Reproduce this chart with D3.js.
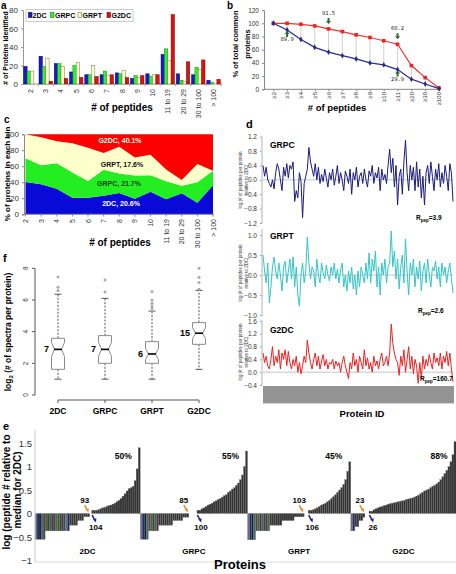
<!DOCTYPE html>
<html><head><meta charset="utf-8">
<script src="https://cdn.jsdelivr.net/npm/d3@7"></script>
<style>body{margin:0;background:#fff}svg{display:block}</style>
</head><body>
<script>
// ---------------- DATA ----------------
const binLabels = ["2","3","4","5","6","7","8","9","10","11 to 19","20 to 29","30 to 100","> 100"];
const seriesNames = ["2DC","GRPC","GRPT","G2DC"];
const a2DC  = [19,30,22,13,10,10,12,6,11,32,11,10,4];
const aGRPC = [14,19,22,20,10,14,11,9,8,38,4,18,2];
const aGRPT = [14,28,19,23,20,9,15,7,10,25,3,16,0];
const aG2DC = [0,3,6,7,8,10,7,9,10,75,24,26,5];
const aTicks = [0,20,40,60,80];

const bLabels = ["≥2","≥3","≥4","≥5","≥6","≥7","≥8","≥9","≥10","≥11","≥20","≥30","≥100"];
const bRed  = [100,100,98.5,96,91.5,87.5,82.5,78.5,73.5,68.2,36,17.7,2];
const bBlue = [100,89.9,75.4,63.5,56.4,51,46,40,37,29.9,15.4,8,1];
const bTicks = [0,20,40,60,80,100,120];
const bNoteIdx = [1,4,9,9];
const bNoteSeries = ["blue","red","red","blue"];

const cPct = ["20.6%","21.7%","17.6%","40.1%"];
const cTicks = [0,20,40,60,80,100];

const dGRPC = [0.4,0.1,0.35,0.0,-0.1,-0.2,0.0,-0.25,0.2,0.45,0.3,0.0,-0.3,0.35,0.1,0.45,0.05,0.4,0.3,
 0.5,-0.6,-0.3,-0.5,0.2,-0.05,-1.05,-0.1,0.1,0.3,0.9,0.5,0.3,
 0.1,0.45,0.0,0.35,-0.1,0.15,-0.05,0.3,0.05,-0.2,0.2,0.0,0.3,-0.15,0.1,0.4,-0.1,0.2,0.0,-0.3,
 0.25,0.1,-0.1,0.3,-0.4,0.2,0.0,0.35,-0.2,0.1,0.2,-0.1,0.3,0.0,-0.2,0.25,0.1,0.4,-0.1,0.2,
 0.05,0.35,-0.3,0.3,0.0,0.15,-0.1,0.4,
 0.85,0.2,0.6,-0.2,0.4,-0.7,0.1,0.3,-0.4,0.5,1.1,0.2,-0.3,0.4,0.0,
 0.35,-0.3,0.5,-0.2,0.3,-0.5,0.1,-0.7,0.2,0.4,-0.1,0.5,0.1,-0.3,0.3,0.0,0.45,-0.2,0.2,-0.1,
 0.4,0.1,-0.3,0.45,0.2,-0.6];
const dGRPT = [0.5,0.1,-0.2,0.3,-0.7,-0.3,0.2,0.45,0.1,-0.1,0.3,0.0,-0.4,0.2,0.35,-0.2,0.1,0.4,-0.1,
 0.45,-0.3,0.2,-0.5,-0.78,0.0,0.3,-0.2,0.1,0.95,0.3,-0.1,0.2,
 0.1,-0.3,0.4,0.0,-0.2,0.3,0.05,-0.1,0.25,0.0,-0.15,0.2,0.0,0.3,-0.1,0.15,-0.2,0.1,0.3,-0.3,
 0.0,-0.4,0.1,-0.2,0.2,-0.35,0.0,-0.5,0.1,-0.3,0.2,0.0,-0.2,0.3,-0.1,0.55,-0.2,0.4,0.1,0.6,
 -0.3,0.2,-0.5,0.3,0.0,0.4,-0.2,0.2,
 0.3,1.1,0.2,0.6,-0.1,0.4,-0.35,0.2,0.5,-0.2,0.9,0.1,-0.5,0.3,0.0,
 0.4,-0.3,0.2,-0.1,0.35,-0.4,0.1,0.3,-0.2,0.4,0.0,-0.3,0.2,0.1,0.35,-0.1,0.2,-0.3,0.3,0.0,
 0.2,-0.2,0.1,0.3,-0.1,-0.45];
const dG2DC = [0.6,0.3,0.5,0.2,0.1,0.4,0.8,0.2,0.5,0.3,0.7,0.1,0.6,0.4,0.7,0.2,0.65,0.3,0.1,
 0.4,0.2,0.5,0.0,0.3,-0.05,0.2,0.5,0.3,1.0,0.6,0.3,0.1,
 0.4,0.6,0.2,0.5,0.1,0.35,0.55,0.2,0.4,0.1,0.3,0.25,0.4,0.1,0.35,0.2,0.3,0.0,0.3,0.5,
 0.2,0.0,-0.2,0.3,0.1,0.6,0.2,0.4,0.0,0.5,0.3,0.1,0.7,0.2,0.45,0.1,0.3,0.0,0.5,0.2,
 0.35,0.1,0.4,0.6,0.2,0.3,0.5,0.2,
 0.6,1.5,0.9,0.6,0.4,0.3,-0.1,0.5,0.2,0.7,0.0,0.4,0.8,0.1,0.5,
 -0.05,0.4,0.2,-0.35,0.3,-0.2,0.5,0.1,0.4,0.2,0.55,0.3,0.1,0.6,0.3,0.45,0.2,0.6,0.1,0.5,
 0.3,0.65,0.2,0.6,0.1,-0.3];
const dNames = ["GRPC","GRPT","G2DC"];
const dRpep = ["3.9","2.6","160.7"];
const dTicksGRPC = [-1.2,-0.8,-0.4,0,0.4,0.8,1.2];
const dTicksGRPT = [-1,-0.5,0,0.5,1];
const dTicksG2DC = [-0.4,0,0.4,0.8,1.2,1.6];

const fGroups = ["2DC","GRPC","GRPT","G2DC"];
const fLow  = [1.0,1.0,1.0,1.62];
const fQ1   = [1.62,2.0,2.0,3.2];
const fMed  = [2.88,2.88,2.59,3.9];
const fQ3   = [3.58,3.75,3.37,4.57];
const fHigh = [6.36,6.1,5.3,6.6];
const fNotch = [0.45,0.45,0.35,0.35];
const fOut = [[6.6,6.8,7.45],[6.5,7.26],[5.47,5.62,5.8,6.0,6.53],[6.68,7.1,7.43,8.0]];
const fMedLabel = ["7","7","6","15"];
const fTicks = [0,2,4,6,8];

const eGroups = ["2DC","GRPC","GRPT","G2DC"];
const eNeg2DC  = [-0.55,-0.55,-0.55,-0.55,-0.55,-0.37,-0.37,-0.37,-0.37,-0.37,-0.37,-0.37,-0.37,-0.37,-0.37,-0.37,-0.37,-0.25,-0.25,-0.25,-0.25,-0.15,-0.15,-0.15,-0.07,-0.07,-0.07];
const ePos2DC  = [0.07,0.07,0.07,0.08,0.1,0.12,0.13,0.15,0.17,0.18,0.2,0.22,0.25,0.28,0.32,0.37,0.42,0.48,0.53,0.55,0.58,0.7,0.95,1.4];
const eNegGRPC = [-0.55,-0.55,-0.55,-0.55,-0.37,-0.37,-0.37,-0.37,-0.37,-0.25,-0.25,-0.25,-0.25,-0.25,-0.25,-0.25,-0.15,-0.15,-0.15,-0.15,-0.15,-0.08,-0.08,-0.08];
const ePosGRPC = [0.07,0.07,0.1,0.12,0.15,0.18,0.2,0.22,0.25,0.27,0.3,0.32,0.35,0.38,0.4,0.45,0.48,0.52,0.55,0.6,0.65,0.72,0.82,1.0,1.33];
const eNegGRPT = [-0.56,-0.56,-0.56,-0.56,-0.37,-0.37,-0.37,-0.37,-0.37,-0.37,-0.37,-0.25,-0.25,-0.25,-0.25,-0.25,-0.25,-0.15,-0.15,-0.15,-0.15,-0.15,-0.15,-0.07,-0.07,-0.07,-0.07,-0.07];
const ePosGRPT = [0.07,0.07,0.08,0.1,0.12,0.15,0.18,0.2,0.22,0.25,0.28,0.32,0.36,0.4,0.45,0.5,0.55,0.62,0.72,0.9,1.1];
const eNegG2DC = [-0.37,-0.37,-0.28,-0.28,-0.15,-0.15,-0.08];
const ePosG2DC = [0.05,0.05,0.08,0.1,0.12,0.14,0.15,0.17,0.18,0.2,0.21,0.22,0.23,0.24,0.25,0.26,0.27,0.28,0.3,0.31,0.32,0.33,0.35,0.37,0.39,0.42,0.45,0.48,0.5,0.52,0.55,0.58,0.6,0.63,0.67,0.72,0.78,0.85,0.92,1.0,1.1,1.25,1.53];
const eCountDown = [93,85,103,23];
const eCountUp = [104,100,106,26];
const ePct = ["50%","55%","45%","88%"];
const eTicks = [-1,-0.5,0,0.5,1,1.5];

// ---------------- DRAW ----------------
const W=456,H=574;
const FONT='"Liberation Sans", Arial, Helvetica, sans-serif';
const svg=d3.select("body").append("svg").attr("width",W).attr("height",H).style("font-family",FONT);

function label(x,y,t,size,o={}){
  const e=svg.append("text").attr("x",x).attr("y",y).text(t).attr("font-size",size);
  if(o.bold) e.attr("font-weight","bold");
  e.attr("text-anchor",o.anchor||"start");
  e.attr("fill",o.fill||"#000");
  if(o.rotate!==undefined) e.attr("transform",`rotate(${o.rotate},${x},${y})`);
  if(o.family) e.attr("font-family",o.family);
  return e;
}
function styleAxis(g,col,fs){
  g.selectAll("path").attr("stroke",col);
  g.selectAll("line").attr("stroke",col);
  g.selectAll("text").attr("fill","#333").attr("font-size",fs).attr("font-family",FONT);
}

// ===== Panel a =====
{
  const aData=[a2DC,aGRPC,aGRPT,aG2DC];
  const cols={fill:["#1a1acc","#33ee33","#ffffcc","#dd1111"],stroke:["#000066","#118811","#777755","#770000"]};
  const x=d3.scaleBand().domain(binLabels).range([23,221]).paddingInner(0.12).paddingOuter(0.05);
  const xi=d3.scaleBand().domain(seriesNames).range([0,x.bandwidth()]);
  const y=d3.scaleLinear().domain([0,80]).range([84,10]);
  const ga=svg.append("g").attr("transform","translate(23,0)").call(d3.axisLeft(y).tickValues(aTicks).tickSize(2));
  styleAxis(ga,"#999",8);
  svg.append("line").attr("x1",23).attr("x2",222).attr("y1",84).attr("y2",84).attr("stroke","#999");
  binLabels.forEach((b,i)=>{
    seriesNames.forEach((s,k)=>{
      const v=aData[k][i];
      svg.append("rect").attr("x",x(b)+xi(s)).attr("width",xi.bandwidth()).attr("y",y(v)).attr("height",y(0)-y(v))
        .attr("fill",cols.fill[k]).attr("stroke",v>0?cols.stroke[k]:"none").attr("stroke-width",0.5);
    });
    const cx=x(b)+x.bandwidth()/2;
    svg.append("line").attr("x1",x(b)+x.bandwidth()+x.step()*0.06).attr("x2",x(b)+x.bandwidth()+x.step()*0.06).attr("y1",84).attr("y2",86).attr("stroke","#999");
    label(cx+2.5,89,b,7,{anchor:"end",rotate:-90,fill:"#333"});
  });
  svg.append("rect").attr("x",26).attr("y",9.5).attr("width",107).attr("height",12).attr("fill","#fff").attr("stroke","#ccc");
  const lx=[28.5,50.5,78,107], tx=[32.5,55,82.5,111.5];
  seriesNames.forEach((s,k)=>{
    svg.append("rect").attr("x",lx[k]).attr("y",12.5).attr("width",3.5).attr("height",5).attr("fill",cols.fill[k]).attr("stroke",cols.stroke[k]).attr("stroke-width",0.6);
    label(tx[k],18.2,s,7,{bold:true});
  });
  label(8,48,"# of Proteins identified",6.8,{bold:true,anchor:"middle",rotate:-90});
  label(122,110.5,"# of peptides",10,{bold:true,anchor:"middle"});
  label(1,9,"a",10,{bold:true});
}

// ===== Panel b =====
{
  const x=d3.scalePoint().domain(bLabels).range([273.3,439]);
  const y=d3.scaleLinear().domain([0,120]).range([89.3,10.1]);
  const ga=svg.append("g").attr("transform","translate(264,0)").call(d3.axisLeft(y).tickValues(bTicks).tickSize(2));
  styleAxis(ga,"#888",6.5);
  const gx=svg.append("g").attr("transform","translate(0,89.3)").call(d3.axisBottom(x).tickSize(2).tickFormat(""));
  gx.select("path").remove();
  styleAxis(gx,"#888",6);
  svg.append("line").attr("x1",264).attr("x2",441).attr("y1",89.3).attr("y2",89.3).attr("stroke","#888");
  bLabels.forEach((b,i)=>{
    svg.append("line").attr("x1",x(b)).attr("x2",x(b)).attr("y1",y(bRed[i])).attr("y2",y(bBlue[i])).attr("stroke","#cfcfcf").attr("stroke-width",1);
    label(x(b)+2.2,92,b,6,{anchor:"end",rotate:-90,fill:"#333"});
  });
  const line=d3.line().x((d,i)=>x(bLabels[i])).y(d=>y(d));
  svg.append("path").attr("d",line(bRed)).attr("fill","none").attr("stroke","#ee3333").attr("stroke-width",1.2);
  svg.append("path").attr("d",line(bBlue)).attr("fill","none").attr("stroke","#2a2a8a").attr("stroke-width",1.2);
  bRed.forEach((v,i)=>svg.append("rect").attr("x",x(bLabels[i])-1.8).attr("y",y(v)-1.8).attr("width",3.6).attr("height",3.6).attr("fill","#ee2222"));
  bBlue.forEach((v,i)=>svg.append("path").attr("d",d3.symbol(d3.symbolDiamond,10)()).attr("transform",`translate(${x(bLabels[i])},${y(v)})`).attr("fill","#2a2a8a"));
  bNoteIdx.forEach((idx,j)=>{
    const ser=bNoteSeries[j]; const v=ser==="red"?bRed[idx]:bBlue[idx];
    const px=x(bLabels[idx]), py=y(v);
    const g=svg.append("g").attr("fill","#2d6b2d");
    if(ser==="red"){
      g.append("path").attr("d",`M${px-1},${py-11}L${px+1},${py-11}L${px+1},${py-8}L${px+2.5},${py-8}L${px},${py-5}L${px-2.5},${py-8}L${px-1},${py-8}Z`);
      label(px,py-14,d3.format(".1f")(v),5.5,{anchor:"middle",family:'"DejaVu Sans Mono", monospace',fill:"#222"});
    } else {
      g.append("path").attr("d",`M${px-1},${py+7}L${px+1},${py+7}L${px+1},${py+4}L${px+2.5},${py+4}L${px},${py+1}L${px-2.5},${py+4}L${px-1},${py+4}Z`);
      label(px,py+11,d3.format(".1f")(v),5.5,{anchor:"middle",family:'"DejaVu Sans Mono", monospace',fill:"#222"});
    }
  });
  label(238,44,"% of total common",7.5,{bold:true,anchor:"middle",rotate:-90});
  label(250,44,"proteins",7.5,{bold:true,anchor:"middle",rotate:-90});
  label(337,111,"# of peptides",9.5,{bold:true,anchor:"middle"});
  label(227,9,"b",10,{bold:true});
}

// ===== Panel c =====
{
  const aData=[a2DC,aGRPC,aGRPT,aG2DC];
  const rows=binLabels.map((b,i)=>{const r={bin:b};seriesNames.forEach((s,k)=>r[s]=aData[k][i]);return r;});
  const stack=d3.stack().keys(seriesNames).offset(d3.stackOffsetExpand)(rows);
  const x=d3.scalePoint().domain(binLabels).range([25.5,213]);
  const y=d3.scaleLinear().domain([0,1]).range([214.3,134.3]);
  const yT=d3.scaleLinear().domain([0,100]).range([214.3,134.3]);
  const colors=["#0a0ad8","#22ee22","#ffffcc","#ff0000"];
  const area=d3.area().x(d=>x(d.data.bin)).y0(d=>y(d[0])).y1(d=>y(d[1]));
  stack.forEach((s,k)=>svg.append("path").attr("d",area(s)).attr("fill",colors[k]));
  const ga=svg.append("g").attr("transform","translate(24,0)").call(d3.axisLeft(yT).tickValues(cTicks).tickSize(2));
  styleAxis(ga,"#888",8);
  svg.append("line").attr("x1",24).attr("x2",214).attr("y1",214.3).attr("y2",214.3).attr("stroke","#888");
  binLabels.forEach(b=>{
    svg.append("line").attr("x1",x(b)).attr("x2",x(b)).attr("y1",214.3).attr("y2",216.5).attr("stroke","#888");
    label(x(b)+2.5,219,b,7,{anchor:"end",rotate:-90,fill:"#333"});
  });
  const pos=[[121,206],[119,186],[122,167],[120,143]];
  const tc=["#fff","#114411","#111","#fff8e0"];
  seriesNames.forEach((s,k)=>label(pos[k][0],pos[k][1],`${s}, ${cPct[k]}`,7,{bold:true,anchor:"middle",fill:tc[k]}));
  label(10,174,"% of proteins in each bin",8,{bold:true,anchor:"middle",rotate:-90});
  label(120,246,"# of peptides",10,{bold:true,anchor:"middle"});
  label(4,123,"c",10,{bold:true});
}

// ===== Panel d =====
{
  const subs=[
    {data:dGRPC,ticks:dTicksGRPC,dom:[-1.2,1.2],rng:[223,136.7],col:"#1a1a80",name:[270,148],r:[416,220],top:136.7,bot:223,tc:180},
    {data:dGRPT,ticks:dTicksGRPT,dom:[-1,1],rng:[315,235],col:"#33c6c6",name:[270,239],r:[418,313],top:229,bot:316,tc:273},
    {data:dG2DC,ticks:dTicksG2DC,dom:[-0.4,1.6],rng:[385,321],col:"#ee2020",name:[270,333],r:[420,381],top:320,bot:385,tc:352}
  ];
  subs.forEach((s,k)=>{
    const x=d3.scaleLinear().domain([0,s.data.length-1]).range([263,453]);
    const y=d3.scaleLinear().domain(s.dom).range(s.rng);
    const ga=svg.append("g").attr("transform","translate(262,0)").call(d3.axisLeft(y).tickValues(s.ticks).tickSize(2).tickFormat(d3.format(".1f")));
    ga.select("path").remove();
    styleAxis(ga,"#999",6.5);
    svg.append("line").attr("x1",262).attr("x2",262).attr("y1",s.top).attr("y2",s.bot).attr("stroke","#ccc").attr("stroke-width",1.5);
    svg.append("line").attr("x1",263).attr("x2",453).attr("y1",y(0)).attr("y2",y(0)).attr("stroke","#aaa").attr("stroke-width",0.7);
    svg.append("path").attr("d",d3.line().x((d,i)=>x(i)).y(d=>y(d))(s.data)).attr("fill","none").attr("stroke",s.col).attr("stroke-width",1);
    label(s.name[0],s.name[1],dNames[k],8.5,{bold:true});
    const t=label(s.r[0],s.r[1],"R",6.5,{bold:true});
    t.append("tspan").attr("font-size",4.5).attr("dy",1.5).text("pep");
    t.append("tspan").attr("dy",-1.5).text("="+dRpep[k]);
    label(242,s.tc,"log |# of peptides per protein",4.5,{anchor:"middle",rotate:-90,fill:"#333"});
    label(247.5,s.tc,"relative to 2DC|",4.5,{anchor:"middle",rotate:-90,fill:"#333"});
  });
  svg.append("rect").attr("x",263).attr("y",386).attr("width",191).attr("height",17).attr("fill","#a4a4a4");
  d3.range(0,9).forEach(i=>svg.append("line").attr("x1",263).attr("x2",454).attr("y1",387+i*2).attr("y2",387+i*2).attr("stroke","#6f6f6f").attr("stroke-width",0.6));
  label(362,417,"Protein ID",9.5,{bold:true,anchor:"middle"});
  label(246,128,"d",11,{bold:true});
}

// ===== Panel f =====
{
  const x=d3.scalePoint().domain(fGroups).range([58,199]);
  const y=d3.scaleLinear().domain([0,8]).range([395,268.3]);
  svg.append("line").attr("x1",35).attr("x2",35).attr("y1",y(0)).attr("y2",y(8)).attr("stroke","#555");
  fTicks.forEach(t=>{
    svg.append("line").attr("x1",32).attr("x2",35).attr("y1",y(t)).attr("y2",y(t)).attr("stroke","#555");
    label(28,y(t),String(t),6.5,{anchor:"middle",rotate:-90,fill:"#333"});
  });
  svg.append("line").attr("x1",58).attr("x2",199).attr("y1",400).attr("y2",400).attr("stroke","#555");
  fGroups.forEach((g,i)=>{
    const c=x(g), hw=6.5, nw=3.5;
    svg.append("line").attr("x1",c).attr("x2",c).attr("y1",400).attr("y2",403).attr("stroke","#555");
    label(c,414,g,8.5,{bold:true,anchor:"middle"});
    const stroke="#8a8a8a";
    svg.append("line").attr("x1",c).attr("x2",c).attr("y1",y(fQ3[i])).attr("y2",y(fHigh[i])).attr("stroke","#555").attr("stroke-dasharray","2,1.5");
    svg.append("line").attr("x1",c).attr("x2",c).attr("y1",y(fQ1[i])).attr("y2",y(fLow[i])).attr("stroke","#555").attr("stroke-dasharray","2,1.5");
    [fHigh[i],fLow[i]].forEach(v=>svg.append("line").attr("x1",c-3.5).attr("x2",c+3.5).attr("y1",y(v)).attr("y2",y(v)).attr("stroke","#555"));
    const m=fMed[i], n=fNotch[i];
    const p=[[c-hw,fQ3[i]],[c-hw,m+n],[c-nw,m],[c-hw,m-n],[c-hw,fQ1[i]],[c+hw,fQ1[i]],[c+hw,m-n],[c+nw,m],[c+hw,m+n],[c+hw,fQ3[i]]];
    svg.append("path").attr("d","M"+p.map(q=>q[0]+","+y(q[1])).join("L")+"Z").attr("fill","#fff").attr("stroke",stroke).attr("stroke-width",1);
    svg.append("line").attr("x1",c-nw-0.5).attr("x2",c+nw+0.5).attr("y1",y(m)).attr("y2",y(m)).attr("stroke","#000").attr("stroke-width",1.6);
    fOut[i].forEach(v=>svg.append("circle").attr("cx",c).attr("cy",y(v)).attr("r",1.5).attr("fill","#aaa"));
    label(c-hw-2.5,y(m)+3,fMedLabel[i],9,{bold:true,anchor:"end"});
  });
  const t=label(11,332,"log",8.5,{bold:true,anchor:"middle",rotate:-90});
  t.append("tspan").attr("font-size",6).attr("dy",2).text("2");
  t.append("tspan").attr("dy",-2).text(" (# of spectra per protein)");
  label(3,262,"f",11,{bold:true});
}

// ===== Panel e =====
{
  const negs=[eNeg2DC,eNegGRPC,eNegGRPT,eNegG2DC];
  const poss=[ePos2DC,ePosGRPC,ePosGRPT,ePosG2DC];
  const gapSlots=[1,4,2,2];
  let slots=[]; let idx=0; const meta=[];
  eGroups.forEach((g,k)=>{
    const start=idx;
    negs[k].forEach((v,j)=>{slots.push({i:idx++,v,neg:true,j});});
    const negEnd=idx; idx+=gapSlots[k]; const posStart=idx;
    poss[k].forEach((v,j)=>{slots.push({i:idx++,v,neg:false,j});});
    meta.push({start,negEnd,posStart,end:idx});
  });
  const x=d3.scaleLinear().domain([0,idx]).range([35,456]);
  const y=d3.scaleLinear().domain([-1,1.5]).range([560.5,443]);
  const palette=["#6c6c82","#1c2a78","#1e1e1e","#3a6c7c","#4a4a4a","#6a553a","#2a4d2a","#3d5e70","#5e3434","#3a3a5c","#4e6e3a","#2a6a2a","#5a3a5a","#3c3c3c","#2f5050"];
  slots.forEach(s=>{
    const fill=s.neg?(s.v<-0.3?palette[s.j%palette.length]:"#363636"):"#333";
    svg.append("rect").attr("x",x(s.i)).attr("width",x(1)-x(0)).attr("y",Math.min(y(s.v),y(0))).attr("height",Math.abs(y(s.v)-y(0)))
      .attr("fill",fill).attr("stroke","#777").attr("stroke-width",0.25);
  });
  svg.append("line").attr("x1",35).attr("x2",35).attr("y1",430).attr("y2",562).attr("stroke","#ccc");
  svg.append("line").attr("x1",35).attr("x2",456).attr("y1",562).attr("y2",562).attr("stroke","#ddd");
  eTicks.forEach(t=>label(32,y(t)+3.5,d3.format("")(t),9.5,{anchor:"end",fill:"#333"}));
  eGroups.forEach((g,k)=>{
    const m=meta[k];
    const cx=(x(m.start)+x(m.end))/2;
    label(cx,554,g,8,{bold:true,anchor:"middle"});
    const xe=x(m.negEnd), xs=x(m.posStart);
    svg.append("line").attr("x1",xe-5).attr("y1",505).attr("x2",xe-2.5).attr("y2",510).attr("stroke","#f28a2e").attr("stroke-width",1.6);
    svg.append("path").attr("d",`M${xe-4},${509.5}L${xe-1.2},${512.5}L${xe-0.8},${508.2}Z`).attr("fill","#f28a2e");
    label(xe-5,503,String(eCountDown[k]),8,{bold:true,anchor:"middle"});
    svg.append("line").attr("x1",xs+0.5).attr("y1",515).attr("x2",xs+3).attr("y2",520).attr("stroke","#1a1a9a").attr("stroke-width",1.6);
    svg.append("path").attr("d",`M${xs+1.5},${519.5}L${xs+4.3},${522.5}L${xs+4.7},${518.2}Z`).attr("fill","#1a1a9a");
    label(xs+4,530,String(eCountUp[k]),8,{bold:true,anchor:"middle"});
    label(x(m.end)-17,459,ePct[k],8.5,{bold:true,anchor:"middle"});
  });
  label(10,492,"log (peptide # relative to",10,{bold:true,anchor:"middle",rotate:-90});
  label(21,490,"median for 2DC)",10,{bold:true,anchor:"middle",rotate:-90});
  label(240,569,"Proteins",13,{bold:true,anchor:"middle"});
  label(3,430,"e",11,{bold:true});
}
</script>
</body></html>
